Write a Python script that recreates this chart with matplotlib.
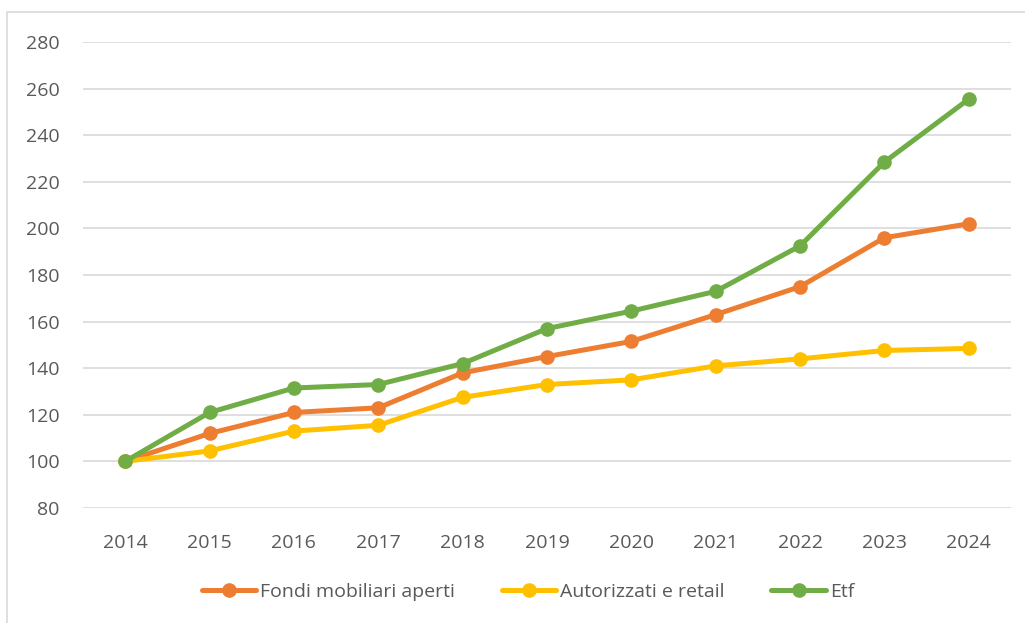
import matplotlib

matplotlib.use("Agg")
import matplotlib.pyplot as plt
from matplotlib.patches import Rectangle

years = ["2014", "2015", "2016", "2017", "2018", "2019", "2020", "2021", "2022", "2023", "2024"]
fondi = [100, 112, 121, 123, 138, 145, 151.5, 163, 175, 196, 202]
autorizzati = [100, 104.5, 113, 115.5, 127.5, 133, 135, 141, 144, 147.6, 148.5]
etf = [100, 121, 131.5, 133, 142, 157, 164.5, 173, 192.5, 228.5, 255.5]

series = [
    ("Fondi mobiliari aperti", fondi, "#ED7D31"),
    ("Autorizzati e retail", autorizzati, "#FFC000"),
    ("Etf", etf, "#70AD47"),
]

plt.rcParams["font.family"] = ["Open Sans", "DejaVu Sans"]
text_color = "#595959"

W, H = 1025, 623
fig = plt.figure(figsize=(W / 100, H / 100), dpi=100)

# chart border (Excel-like frame, cut off at right and bottom)
fig.patches.append(Rectangle((7 / W, -0.1), 1.2, 1.1 - 12 / H, transform=fig.transFigure,
                             fill=False, edgecolor="#D9D9D9", linewidth=1.2))

ax = fig.add_axes([83 / W, 1 - 508 / H, (1011 - 83) / W, (508 - 42) / H])
x = list(range(len(years)))
for i, (name, vals, color) in enumerate(series):
    ax.plot(x, vals, color=color, linewidth=3.6, marker="o", markersize=9.5,
            label=name, zorder=3 + i, solid_capstyle="round")

ax.set_xlim(-0.5, len(years) - 0.5)
ax.set_ylim(80, 280)
ax.set_yticks(range(80, 281, 20))
ax.set_xticks(x)
ax.set_xticklabels(years)
ax.grid(axis="y", color="#D9D9D9", linewidth=1.2)
ax.set_axisbelow(True)
for s in ax.spines.values():
    s.set_visible(False)
ax.tick_params(length=0, labelsize=14, colors=text_color, pad=19)
ax.tick_params(axis="y", pad=17)

leg = fig.legend(loc="center", bbox_to_anchor=(528 / W, 1 - 592 / H), ncol=3, frameon=False,
                 fontsize=14, handlelength=2.8, columnspacing=2.4, handletextpad=0.2)
for t in leg.get_texts():
    t.set_color(text_color)

fig.savefig("out.png", dpi=100)
